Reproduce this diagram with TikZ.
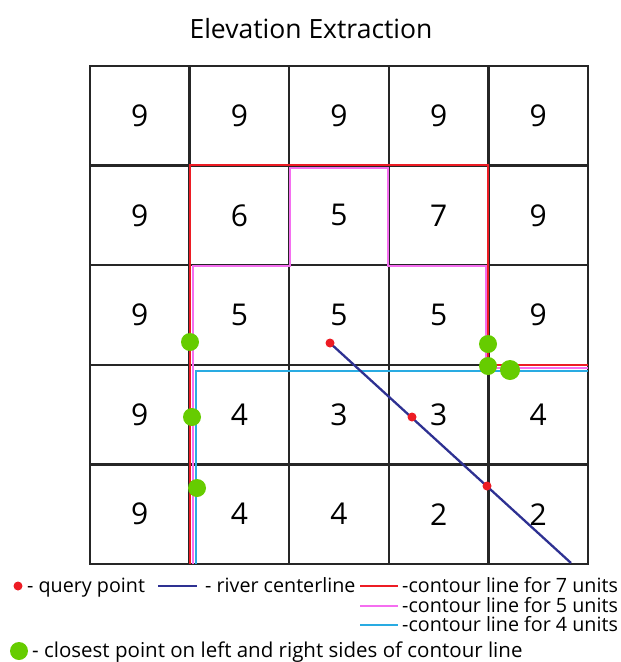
\documentclass[tikz,border=0pt]{standalone}
\usepackage{fontspec}
\setmainfont{Open Sans}
\usetikzlibrary{positioning}

\definecolor{gridgray}{HTML}{262626}
\definecolor{contseven}{HTML}{ED1C24}
\definecolor{contfive}{HTML}{F56EF0}
\definecolor{contfour}{HTML}{29ABE2}
\definecolor{rivercol}{HTML}{2E3192}
\definecolor{closecol}{HTML}{66CC00}
\definecolor{querycol}{HTML}{ED1C24}

\tikzset{
	cell/.style = {draw = gridgray, line width = 2.5pt, minimum size = 99.6pt, inner sep = 0pt, font = \fontsize{30}{30}\selectfont},
	closept/.style = {circle, fill = closecol, inner sep = 0pt, minimum size = 18pt},
	querypt/.style = {circle, fill = querycol, inner sep = 0pt, minimum size = 9pt},
	legtext/.style = {anchor = base west, inner sep = 0pt, font = \fontsize{19.7}{19.7}\selectfont},
	contour/.style = {line width = 2.3pt}
}

\begin{document}
\begin{tikzpicture}[x = 1pt, y = -1pt]
	\useasboundingbox (0,0) rectangle (621,662);
	\node [font = \fontsize{26.5}{26.5}\selectfont] (title) at (311,29) {Elevation Extraction};
	
	%elevation grid
	\foreach \row [count = \r] in {{9,9,9,9,9},{9,6,5,7,9},{9,5,5,5,9},{9,4,3,3,4},{9,4,4,2,2}}
		\foreach \v [count = \c] in \row
			\node [cell] (c\r\c) at ({90 + 99.6*(\c - 0.5)}, {66 + 99.6*(\r - 0.5)}) {\v};
	
	%contour for 7
	\draw [contour, contseven] (190,564) -- (190,165) -- (488,165) -- (488,365) -- (588,365);
	%contour for 5
	\draw [contour, contfive] (193,564) -- (193,266) -- (290,266) -- (290,168) -- (388,168) -- (388,266) -- (486,266) -- (486,368) -- (588,368);
	%contour for 4
	\draw [contour, contfour] (196,564) -- (196,371) -- (588,371);
	
	%river
	\coordinate (rivstart) at (330,343);
	\coordinate (rivend) at (571,563);
	\draw [line width = 2.3pt, rivercol] (rivstart) -- (rivend);
	\node [querypt] (q1) at (rivstart) {};
	\node [querypt] (q2) at (412,417) {};
	\node [querypt] (q3) at (487,486) {};
	
	%closest points
	\node [closept] (p1) at (190,342) {};
	\node [closept] (p2) at (192,417) {};
	\node [closept] (p3) at (197,488) {};
	\node [closept] (p4) at (488,344) {};
	\node [closept] (p5) at (488,366) {};
	\node [closept, minimum size = 20pt] (p6) at (510,370) {};
	
	%legend
	\node [querypt] (lq) at (18,586) {};
	\node [legtext] (lqtext) at (27,592) {- query point};
	\draw [line width = 2.3pt, rivercol] (158,586) -- (197,586);
	\node [legtext] (lrtext) at (205,592) {- river centerline};
	\draw [contour, contseven] (360,586) -- (398,586);
	\node [legtext] (l7text) at (402,592) {-contour line for 7 units};
	\draw [contour, contfive] (360,606) -- (398,606);
	\node [legtext] (l5text) at (402,612) {-contour line for 5 units};
	\draw [contour, contfour] (360,625) -- (398,625);
	\node [legtext] (l4text) at (402,631) {-contour line for 4 units};
	\node [closept] (lc) at (19,651) {};
	\node [legtext, font = \fontsize{20.5}{20.5}\selectfont] (lctext) at (32,657) {- closest point on left and right sides of contour line};
\end{tikzpicture}
\end{document}
